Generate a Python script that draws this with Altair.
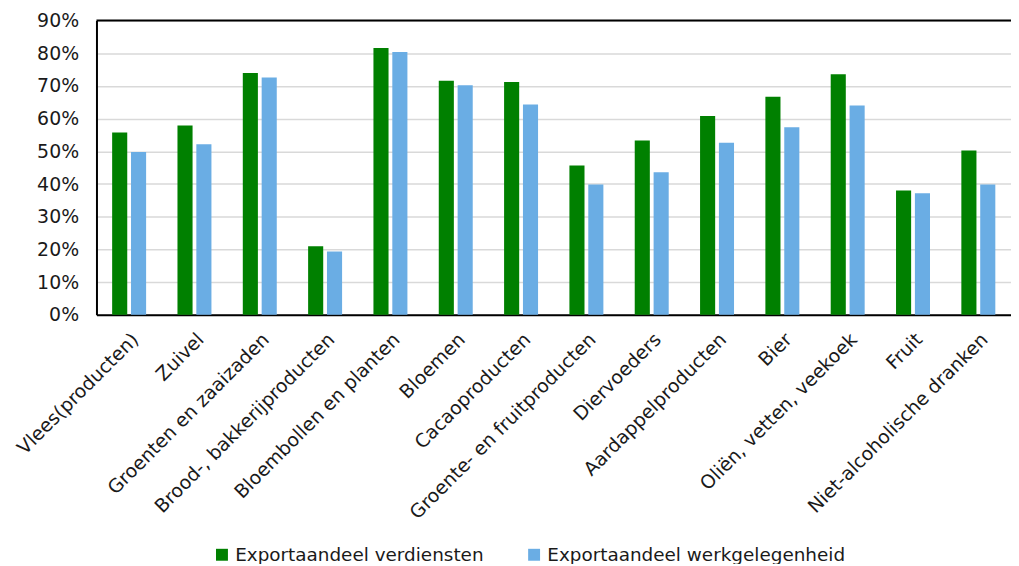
import altair as alt
import pandas as pd

categories = [
    "Vlees(producten)", "Zuivel", "Groenten en zaaizaden", "Brood-, bakkerijproducten",
    "Bloembollen en planten", "Bloemen", "Cacaoproducten", "Groente- en fruitproducten",
    "Diervoeders", "Aardappelproducten", "Bier", "Oliën, vetten, veekoek", "Fruit",
    "Niet-alcoholische dranken",
]
verdiensten = [55.8, 57.9, 74.0, 21.0, 81.6, 71.6, 71.2, 45.7, 53.3, 60.8, 66.7, 73.6, 38.0, 50.3]
werkgelegenheid = [49.8, 52.2, 72.6, 19.4, 80.4, 70.2, 64.3, 39.9, 43.6, 52.6, 57.4, 64.0, 37.2, 39.9]
series = ["Exportaandeel verdiensten", "Exportaandeel werkgelegenheid"]
colors = ["#008000", "#6aade4"]
y_ticks = [0, 0.1, 0.2, 0.3, 0.4, 0.5, 0.6, 0.7, 0.8, 0.9]

rows = []
for c, a, b in zip(categories, verdiensten, werkgelegenheid):
    rows.append({"cat": c, "serie": series[0], "val": a / 100})
    rows.append({"cat": c, "serie": series[1], "val": b / 100})
df = pd.DataFrame(rows)

FONT = "DejaVu Sans"

y_axis = alt.Axis(format=".0%", values=y_ticks, ticks=False, labelPadding=18,
                  labelOverlap=False, labelLimit=0,
                  domainColor="#000000", domainWidth=2,
                  gridColor="#d9d9d9", gridWidth=1.5)
y_scale = alt.Scale(domain=[0, 0.9], nice=False)

bars = alt.Chart(df).mark_bar().encode(
    x=alt.X("cat:N", sort=categories, title=None,
            scale=alt.Scale(paddingInner=0.48, paddingOuter=0.24),
            axis=alt.Axis(labelAngle=315, labelAlign="right", labelBaseline="top",
                          ticks=False, labelPadding=15, labelLimit=0, labelOverlap=False,
                          domainColor="#000000", domainWidth=2, grid=False)),
    xOffset=alt.XOffset("serie:N", sort=series,
                        scale=alt.Scale(paddingInner=0.2, paddingOuter=0)),
    y=alt.Y("val:Q", title=None, scale=y_scale, axis=y_axis),
    color=alt.Color("serie:N", sort=series,
                    scale=alt.Scale(domain=series, range=colors),
                    legend=alt.Legend(title=None, orient="none", direction="horizontal",
                                      legendX=117, legendY=528, symbolType="square",
                                      symbolSize=144, symbolStrokeWidth=0,
                                      labelOffset=4, columnPadding=41, labelLimit=0,
                                      labelFontSize=18.5)),
)

top = alt.Chart(pd.DataFrame({"v": [0.9]})).mark_rule(color="#000000", strokeWidth=2).encode(
    y=alt.Y("v:Q", title=None, scale=y_scale, axis=y_axis)
)

chart = alt.layer(bars, top).properties(
    width=920, height=296,
    autosize=alt.AutoSizeParams(type="none"),
    padding={"left": 89, "top": 11, "right": 0, "bottom": 249},
).configure_view(stroke=None).configure_axis(
    labelFont=FONT, labelFontSize=19, labelColor="#1a1a1a"
).configure_legend(
    labelFont=FONT, labelColor="#1a1a1a"
)

chart.save("out.html", embed_options={"renderer": "svg", "actions": False})
